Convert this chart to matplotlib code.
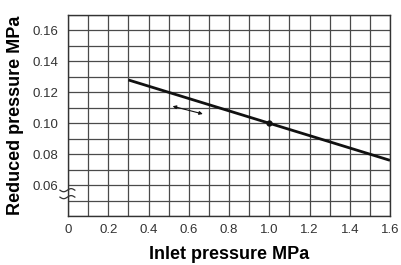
import numpy as np
import matplotlib.pyplot as plt
from matplotlib.ticker import MultipleLocator

plt.rcParams['font.family'] = ['Liberation Sans', 'DejaVu Sans']

# characteristic line
inlet = [0.3, 1.0, 1.6]
reduced = [0.128, 0.100, 0.076]
set_point = (1.0, 0.100)

# adjustment arrow
arrow_start = (0.52, 0.111)
arrow_end = (0.67, 0.106)

x_ticks = [0, 0.2, 0.4, 0.6, 0.8, 1.0, 1.2, 1.4, 1.6]
x_labels = ['0', '0.2', '0.4', '0.6', '0.8', '1.0', '1.2', '1.4', '1.6']
y_ticks = [0.06, 0.08, 0.10, 0.12, 0.14, 0.16]
y_labels = ['0.06', '0.08', '0.10', '0.12', '0.14', '0.16']

dpi = 100
fig = plt.figure(figsize=(401 / dpi, 265 / dpi), dpi=dpi)
ax = fig.add_axes([68 / 401, 1 - 216 / 265, 322 / 401, 201 / 265])

ax.set_xlim(0, 1.6)
ax.set_ylim(0.04, 0.17)
ax.set_xticks(x_ticks)
ax.set_xticklabels(x_labels)
ax.set_yticks(y_ticks)
ax.set_yticklabels(y_labels)
ax.xaxis.set_minor_locator(MultipleLocator(0.1))
ax.yaxis.set_minor_locator(MultipleLocator(0.01))
ax.grid(True, which='both', color='#4a4a4a', linewidth=0.9)
ax.set_axisbelow(True)
ax.tick_params(which='both', length=0, labelsize=9.5, colors='#333333')
ax.tick_params(axis='y', pad=7)
ax.tick_params(axis='x', pad=6)
for s in ax.spines.values():
    s.set_color('#333333')
    s.set_linewidth(1.0)

ax.plot(inlet, reduced, color='#111111', linewidth=2.0, solid_capstyle='butt')
ax.plot(*set_point, 'o', color='#111111', markersize=3.5)

ax.annotate('', xy=arrow_end, xytext=arrow_start,
            arrowprops=dict(arrowstyle='<|-|>', color='#111111', lw=0.8,
                            mutation_scale=5, shrinkA=0, shrinkB=0))

# axis break mark
t = np.linspace(-1, 1, 40)
for off in (0.0567, 0.0522):
    ax.plot(-0.003 + t * 0.037, off + 0.0010 * np.sin(t * np.pi), color='#333333',
            linewidth=0.9, clip_on=False, zorder=5)

ax.set_xlabel('Inlet pressure MPa', fontsize=13, fontweight='bold', labelpad=7)
ax.set_ylabel('Reduced pressure MPa', fontsize=13, fontweight='bold', labelpad=6)

fig.savefig('out.png', dpi=dpi)
